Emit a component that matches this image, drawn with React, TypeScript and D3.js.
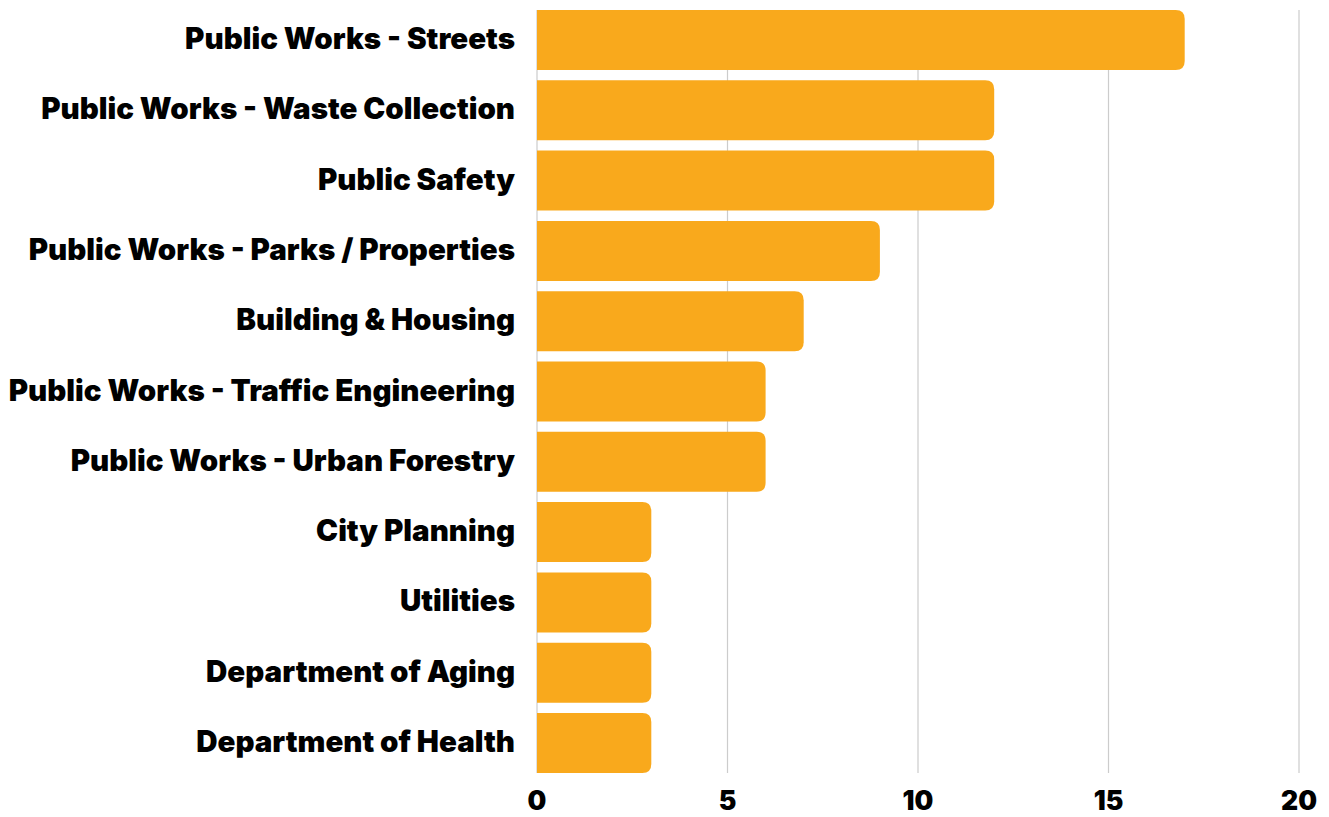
import React from 'react';
import * as d3 from 'd3';

const departments = [
  'Public Works - Streets',
  'Public Works - Waste Collection',
  'Public Safety',
  'Public Works - Parks / Properties',
  'Building & Housing',
  'Public Works - Traffic Engineering',
  'Public Works - Urban Forestry',
  'City Planning',
  'Utilities',
  'Department of Aging',
  'Department of Health',
];
const counts = [17, 12, 12, 9, 7, 6, 6, 3, 3, 3, 3];
const ticks = [0, 5, 10, 15, 20];

const W = 1329;
const H = 817;
const font = 'Inter, "Noto Sans", sans-serif';

// bar with square left end and rounded right end
function barPath(x0: number, x1: number, y: number, h: number, r: number) {
  const rr = Math.min(r, (x1 - x0) / 2, h / 2);
  return `M${x0},${y}H${x1 - rr}Q${x1},${y} ${x1},${y + rr}V${y + h - rr}Q${x1},${y + h} ${x1 - rr},${y + h}H${x0}Z`;
}

export default function App() {
  const x = d3.scaleLinear().domain([0, 20]).range([537, 1299]);
  const y = d3.scaleBand<string>().domain(departments).range([10, 773]).paddingInner(0.147).paddingOuter(0);
  const bottom = 773;

  return (
    <svg width={W} height={H} style={{ position: 'absolute', left: 0, top: 0 }}>
      <rect width={W} height={H} fill="#fff" />
      {ticks.map(t => (
        <line key={t} x1={x(t)} x2={x(t)} y1={10} y2={bottom} stroke="#cccccc" strokeWidth={1.2} />
      ))}
      {departments.map((d, i) => (
        <path key={d} d={barPath(x(0), x(counts[i]), y(d)!, y.bandwidth(), 9)} fill="#F9A91C" />
      ))}
      {departments.map(d => (
        <text
          key={d}
          x={515}
          y={y(d)! + y.bandwidth() / 2 - 2}
          textAnchor="end"
          dominantBaseline="central"
          fontFamily={font}
          fontWeight={900}
          fontSize={29.5}
          fill="#000"
        >
          {d}
        </text>
      ))}
      {ticks.map(t => (
        <text
          key={t}
          x={x(t)}
          y={810}
          textAnchor="middle"
          fontFamily={font}
          fontWeight={900}
          fontSize={26.5}
          fill="#000"
        >
          {t}
        </text>
      ))}
    </svg>
  );
}
